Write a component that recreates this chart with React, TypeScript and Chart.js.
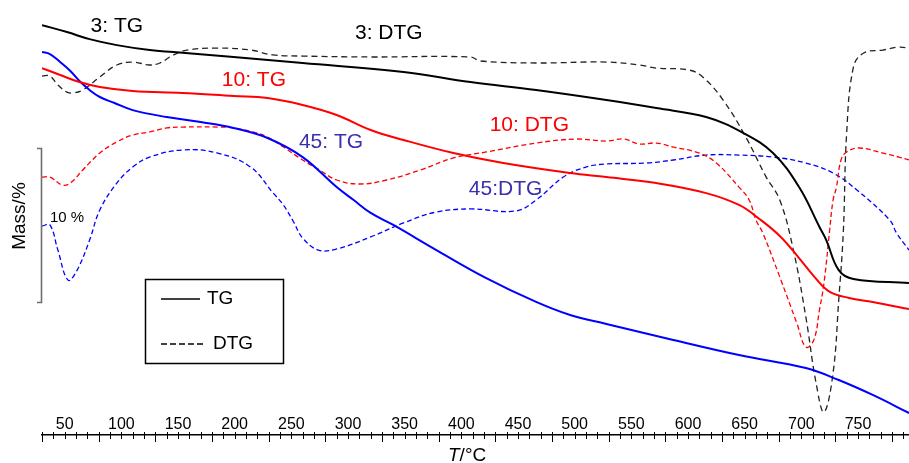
import React, { useEffect, useRef } from 'react';
import { Chart, registerables } from 'chart.js';

Chart.register(...registerables);

// Temperature (°C) / relative mass (%) pairs
const TG3: [number, number][] = [
  [30, 26.62], [52, 26.17], [72, 25.71], [96, 25.32], [125, 25.0], [146, 24.87],
  [199, 24.55], [260, 24.16], [349, 23.57], [408, 22.92], [466, 22.4], [528, 21.75],
  [572, 21.23], [616, 20.65], [649, 19.61], [675, 18.31], [698, 16.1], [716, 13.51],
  [722, 12.66], [733, 10.71], [746, 10.13], [795, 9.87],
];

const TG10: [number, number][] = [
  [30, 23.83], [46, 23.38], [63, 22.92], [81, 22.6], [110, 22.34], [154, 22.21],
  [199, 22.01], [229, 21.88], [260, 21.43], [290, 20.78], [320, 19.81], [349, 19.16],
  [393, 18.31], [437, 17.66], [496, 17.01], [528, 16.75], [572, 16.36], [616, 15.71],
  [645, 14.94], [663, 14.03], [681, 12.92], [698, 11.49], [711, 10.32], [724, 9.35],
  [742, 8.9], [763, 8.64], [795, 8.18],
];

const TG45: [number, number][] = [
  [30, 24.87], [37, 24.74], [46, 24.22], [55, 23.64], [64, 22.92], [72, 22.4],
  [81, 21.95], [94, 21.56], [110, 21.1], [140, 20.65], [170, 20.32], [199, 19.94],
  [229, 19.29], [260, 18.05], [290, 16.1], [305, 15.26], [320, 14.42], [340, 13.64],
  [378, 12.01], [422, 10.19], [466, 8.64], [496, 7.79], [528, 7.21], [587, 6.17],
  [645, 5.19], [704, 4.35], [733, 3.57], [763, 2.6], [795, 1.43],
];

const DTG3: [number, number][] = [
  [30, 23.31], [37, 23.31], [44, 22.73], [52, 22.27], [57, 22.21], [66, 22.4],
  [81, 23.25], [96, 24.03], [110, 24.22], [125, 24.03], [134, 24.16], [146, 24.68],
  [158, 25.0], [185, 25.13], [214, 25.0], [234, 24.68], [260, 24.61], [320, 24.55],
  [408, 24.55], [417, 24.29], [466, 24.16], [528, 24.22], [557, 24.03], [572, 23.83],
  [601, 23.7], [613, 23.25], [631, 21.75], [651, 19.35], [669, 16.75], [681, 15.26],
  [693, 12.01], [704, 7.66], [713, 3.38], [720, 1.49], [728, 4.03], [733, 8.77],
  [737, 13.12], [740, 19.61], [746, 23.9], [755, 24.81], [772, 25.0], [786, 25.19],
  [795, 25.13],
];

const DTG10: [number, number][] = [
  [30, 16.75], [37, 16.75], [48, 16.23], [55, 16.36], [66, 17.21], [81, 18.31],
  [96, 19.03], [110, 19.48], [125, 19.68], [140, 19.94], [154, 20.0], [185, 20.0],
  [199, 19.94], [216, 19.68], [229, 19.35], [243, 18.7], [260, 17.86], [275, 17.21],
  [290, 16.56], [311, 16.3], [334, 16.56], [364, 17.21], [393, 17.99], [422, 18.38],
  [466, 18.96], [501, 19.22], [528, 19.09], [543, 19.22], [557, 18.9], [572, 18.96],
  [587, 18.7], [610, 18.31], [625, 17.66], [645, 16.1], [654, 15.26], [660, 13.96],
  [666, 13.12], [681, 10.26], [696, 7.27], [704, 5.71], [711, 6.17], [716, 8.12],
  [720, 9.87], [725, 13.31], [728, 15.26], [731, 16.1], [735, 17.86], [740, 18.38],
  [751, 18.64], [772, 18.31], [786, 18.05], [795, 17.86],
];

const DTG45: [number, number][] = [
  [30, 13.57], [37, 13.64], [44, 12.01], [53, 10.06], [61, 10.71], [72, 12.66],
  [81, 14.61], [96, 16.36], [110, 17.4], [125, 18.05], [154, 18.51], [185, 18.31],
  [214, 17.4], [234, 15.71], [243, 14.94], [252, 13.83], [260, 12.79], [274, 12.01],
  [290, 12.08], [320, 12.86], [349, 13.77], [378, 14.48], [408, 14.68], [448, 14.55],
  [466, 15.26], [490, 16.75], [510, 17.4], [528, 17.6], [563, 17.66], [587, 17.86],
  [616, 18.18], [645, 18.18], [675, 18.05], [704, 17.66], [728, 17.01], [749, 15.91],
  [778, 13.96], [784, 13.12], [795, 12.01],
];

const X_MIN = 30;
const X_MAX = 795;
const X_STEP = 10;
const X_LABEL_STEP = 50;
const Y_MIN = 0;
const Y_MAX = 28.25;

// Curve annotations
const LABEL_TEXT = ['3: TG', '3: DTG', '10: TG', '10: DTG', '45: TG', '45:DTG'];
const LABEL_T = [96, 336, 217, 460, 285, 439];
const LABEL_V = [26.56, 26.1, 23.05, 20.13, 19.03, 15.97];
const LABEL_COLOR = ['#000000', '#000000', '#ff0000', '#ff0000', '#3a2fb0', '#3a2fb0'];

// 10 % scale bar
const SCALE_BAR_TOP = 18.64;
const SCALE_BAR_SIZE = 10;

const FONT = '"Liberation Sans", Arial, Helvetica, sans-serif';

const toPts = (arr: [number, number][]) => arr.map(([x, y]) => ({ x, y }));

const decorPlugin = {
  id: 'decor',
  afterDraw(chart: any) {
    const ctx = chart.ctx as CanvasRenderingContext2D;
    const xs = chart.scales.x;
    const ys = chart.scales.y;
    const area = chart.chartArea;
    const y0 = area.bottom;
    ctx.save();

    // tick marks crossing the axis, labels above it
    ctx.strokeStyle = '#000';
    ctx.fillStyle = '#000';
    ctx.lineWidth = 1;
    ctx.font = `16px ${FONT}`;
    ctx.textAlign = 'center';
    ctx.textBaseline = 'alphabetic';
    xs.ticks.forEach((t: any) => {
      const px = Math.round(xs.getPixelForValue(t.value)) + 0.5;
      const long = (t.value - X_MIN) % X_LABEL_STEP === 0;
      ctx.beginPath();
      ctx.moveTo(px, y0 - 3);
      ctx.lineTo(px, y0 + (long ? 7 : 4));
      ctx.stroke();
      if (t.value % X_LABEL_STEP === 0) {
        ctx.fillText(String(t.value), xs.getPixelForValue(t.value), y0 - 6);
      }
    });

    // axis title T/°C
    ctx.textAlign = 'left';
    const tx = 448;
    const ty = 461;
    ctx.font = `italic 19px ${FONT}`;
    ctx.fillText('T', tx, ty);
    const tw = ctx.measureText('T').width;
    ctx.font = `19px ${FONT}`;
    ctx.fillText('/°C', tx + tw, ty);

    // y label
    ctx.save();
    ctx.translate(20, 216);
    ctx.rotate(-Math.PI / 2);
    ctx.textAlign = 'center';
    ctx.textBaseline = 'middle';
    ctx.font = `19px ${FONT}`;
    ctx.fillText('Mass/%', 0, 0);
    ctx.restore();

    // scale bar
    const bTop = Math.round(ys.getPixelForValue(SCALE_BAR_TOP)) + 0.5;
    const bBot = Math.round(ys.getPixelForValue(SCALE_BAR_TOP - SCALE_BAR_SIZE)) + 0.5;
    ctx.strokeStyle = '#6e6e6e';
    ctx.lineWidth = 1.6;
    ctx.beginPath();
    ctx.moveTo(37, bTop);
    ctx.lineTo(41.5, bTop);
    ctx.lineTo(41.5, bBot);
    ctx.lineTo(37, bBot);
    ctx.stroke();
    ctx.fillStyle = '#000';
    ctx.font = `15px ${FONT}`;
    ctx.textAlign = 'left';
    ctx.textBaseline = 'middle';
    ctx.fillText('10 %', 50, 218);

    // curve labels
    ctx.font = `21px ${FONT}`;
    ctx.textAlign = 'center';
    ctx.textBaseline = 'middle';
    LABEL_TEXT.forEach((txt, i) => {
      ctx.fillStyle = LABEL_COLOR[i];
      ctx.fillText(txt, xs.getPixelForValue(LABEL_T[i]), ys.getPixelForValue(LABEL_V[i]));
    });

    // legend box
    ctx.strokeStyle = '#000';
    ctx.lineWidth = 1.5;
    ctx.strokeRect(145.5, 279.5, 138, 84);
    ctx.beginPath();
    ctx.moveTo(161, 299);
    ctx.lineTo(200, 299);
    ctx.stroke();
    ctx.setLineDash([6, 3]);
    ctx.lineWidth = 1.3;
    ctx.beginPath();
    ctx.moveTo(161, 344);
    ctx.lineTo(206, 344);
    ctx.stroke();
    ctx.setLineDash([]);
    ctx.fillStyle = '#000';
    ctx.font = `19px ${FONT}`;
    ctx.textAlign = 'left';
    ctx.textBaseline = 'middle';
    ctx.fillText('TG', 207, 299);
    ctx.fillText('DTG', 213, 344);

    ctx.restore();
  },
};

export default function App() {
  const ref = useRef<HTMLCanvasElement | null>(null);

  useEffect(() => {
    document.body.style.margin = '0';
    const canvas = ref.current;
    if (!canvas) return;
    const solid = (data: [number, number][], color: string) => ({
      data: toPts(data),
      borderColor: color,
      borderWidth: 2,
      pointRadius: 0,
      fill: false,
      tension: 0.4,
    });
    const dashed = (data: [number, number][], color: string, dash: number[]) => ({
      data: toPts(data),
      borderColor: color,
      borderWidth: 1.3,
      borderDash: dash,
      pointRadius: 0,
      fill: false,
      tension: 0.4,
    });
    const chart = new Chart(canvas, {
      type: 'line',
      data: {
        datasets: [
          solid(TG3, '#000000'),
          solid(TG10, '#ff0000'),
          solid(TG45, '#0000ff'),
          dashed(DTG3, '#222222', [6, 4]),
          dashed(DTG10, '#ff0000', [5, 3]),
          dashed(DTG45, '#0000ff', [5, 3]),
        ] as any,
      },
      options: {
        animation: false,
        responsive: false,
        devicePixelRatio: 1,
        layout: { padding: { left: 42, top: 0, right: 0, bottom: 0 } },
        plugins: { legend: { display: false }, tooltip: { enabled: false } },
        scales: {
          x: {
            type: 'linear',
            position: 'bottom',
            min: X_MIN,
            max: X_MAX,
            afterFit: (scale: any) => {
              scale.height = 28;
            },
            grid: { drawOnChartArea: false, drawTicks: false },
            border: { display: true, color: '#000', width: 1.5 },
            ticks: {
              display: false,
              stepSize: X_STEP,
              includeBounds: false,
              autoSkip: false,
              maxRotation: 0,
            },
          },
          y: {
            type: 'linear',
            display: false,
            min: Y_MIN,
            max: Y_MAX,
          },
        },
      } as any,
      plugins: [decorPlugin],
    });
    return () => chart.destroy();
  }, []);

  return <canvas ref={ref} width={909} height={463} style={{ display: 'block', width: 909, height: 463 }} />;
}
